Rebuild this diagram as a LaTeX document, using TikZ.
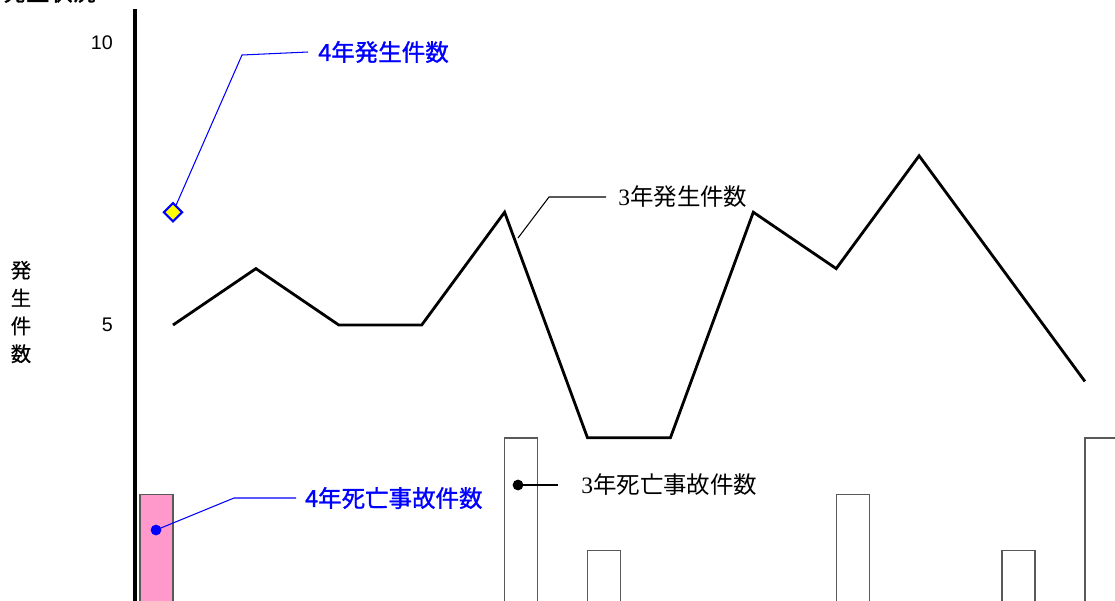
\documentclass[tikz,border=0pt]{standalone}
\usepackage{fontspec}
\setmainfont{Liberation Sans}
\newfontfamily\jp{Noto Sans CJK JP}
\newfontfamily\jpbold[FakeBold=1.3]{Noto Sans CJK JP}
\newfontfamily\jpmid[FakeBold=0.6]{Noto Sans CJK JP}
\newfontfamily\numserif{Liberation Serif}
\usetikzlibrary{math, shapes.geometric}
\definecolor{mblue}{RGB}{0,0,255}
\definecolor{mpink}{RGB}{255,153,204}
\definecolor{myellow}{RGB}{255,255,0}
\tikzstyle{curve} = [line width=2pt, line join=miter]
\tikzstyle{bar} = [draw=black!65, line width=1pt]
\tikzstyle{lead} = [line width=0.75pt]
\tikzstyle{tick} = [anchor=east, inner sep=0pt, font=\fontsize{14}{15}\selectfont]
\tikzstyle{lbl} = [anchor=west, inner ysep=0pt, font=\jp\fontsize{16.7}{18}\selectfont]
\tikzstyle{blbl} = [lbl, mblue, font=\jpbold\fontsize{16.7}{18}\selectfont]
\tikzstyle{dot} = [circle, fill, inner sep=0mm, minimum size=0.27cm]
\tikzstyle{mark4} = [diamond, draw=mblue, fill=myellow, line width=1.5pt, inner sep=0mm, minimum size=0.48cm]

\begin{document}
\begin{tikzpicture}[x=0.025cm, y=-0.025cm]
                \clip (0,0) rectangle (1115,600);
                \node[anchor=west, font=\jpbold\fontsize{16.5}{18}\selectfont] (title) at (-2,-8) {発生状況};
                \node[font=\jpmid\fontsize{14.5}{19.8}\selectfont, align=center] (ylab) at (21,312) {発\\生\\件\\数};
                \draw[line width=2.3pt] (135,9) -- (135,610);
                \node[tick] (t10) at (113,43) {10};
                \node[tick] (t5) at (113,325) {5};

                % 3年 bars
                \foreach \i/\v in {5/3, 6/1, 9/2, 11/1, 12/3} {
                    \tikzmath{\x=173+82.9*(\i-1); \y=607-56.4*\v;}
                    \draw[bar] (\x,612) rectangle (\x+33,\y);
                }
                \draw[bar, fill=mpink] (140,612) rectangle (173,494.2);

                % 3年 line
                \foreach \i/\v in {1/5, 2/6, 3/5, 4/5, 5/7, 6/3, 7/3, 8/7, 9/6, 10/8, 11/6, 12/4} {
                    \tikzmath{\x=173+82.9*(\i-1); \y=607-56.4*\v;}
                    \coordinate (p\i) at (\x,\y);
                }
                \draw[curve] (p1) \foreach \i in {2,...,12} {-- (p\i)};

                \node[mark4] (d4) at (173,212.2) {};
                \node[dot, mblue] (b4) at (156,530) {};
                \node[dot] (b3) at (518,485) {};
                \coordinate (c3) at (518,238);

                \node[blbl, inner xsep=0.25cm] (l4) at (308,52) {4年発生件数};
                \node[lbl, inner xsep=0.3cm] (l3) at (606,197) {{\numserif 3}年発生件数};
                \node[blbl, inner xsep=0.22cm] (m4) at (296,498) {4年死亡事故件数};
                \node[lbl, inner xsep=0.575cm] (m3) at (558,485) {{\numserif 3}年死亡事故件数};

                \draw[lead, mblue] (d4) -- (242,55) -- (l4.west);
                \draw[lead] (c3) -- (549,197) -- (l3.west);
                \draw[lead, mblue] (b4.center) -- (234,498) -- (m4.west);
                \draw[lead] (b3.center) -- (m3.west);
            \end{tikzpicture}
\end{document}
